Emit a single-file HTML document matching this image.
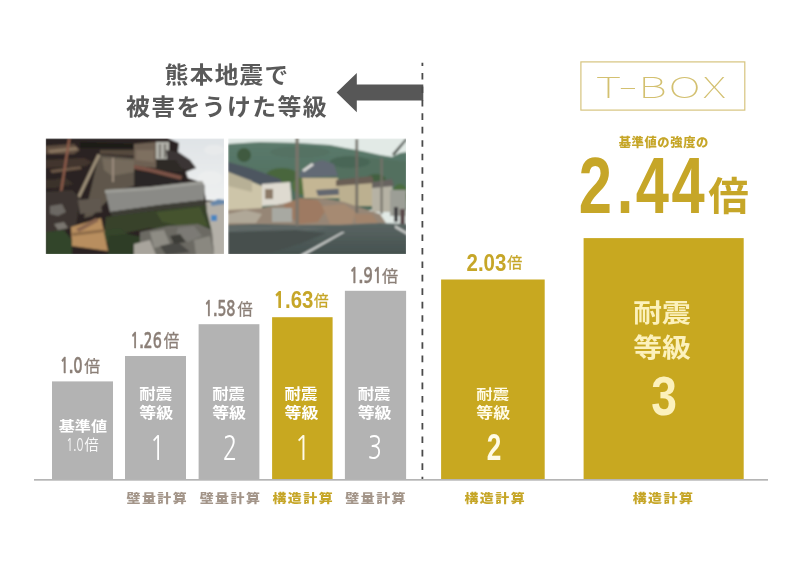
<!DOCTYPE html>
<html><head><meta charset="utf-8">
<style>
html,body{margin:0;padding:0;background:#fff;}
body{width:800px;height:565px;overflow:hidden;}
svg{display:block;}
</style></head>
<body>
<svg width="800" height="565" viewBox="0 0 800 565">
<rect width="800" height="565" fill="#fff"/>
<defs>
<clipPath id="cp1"><rect x="45.8" y="138.4" width="178.2" height="115.6"/></clipPath>
<clipPath id="cp2"><rect x="228.1" y="138.4" width="177.9" height="115.6"/></clipPath>
<filter id="bl" x="-5%" y="-5%" width="110%" height="110%"><feGaussianBlur stdDeviation="0.9"/></filter>
<linearGradient id="sky1" x1="0" y1="0" x2="0" y2="1"><stop offset="0" stop-color="#dfe3e6"/><stop offset="1" stop-color="#eef0f0"/></linearGradient>
<linearGradient id="mtn" x1="0" y1="0" x2="0" y2="1"><stop offset="0" stop-color="#5b7a6b"/><stop offset="1" stop-color="#4c6a5a"/></linearGradient>
<linearGradient id="road" x1="0" y1="0" x2="0" y2="1"><stop offset="0" stop-color="#5a6563"/><stop offset="1" stop-color="#45514f"/></linearGradient>
</defs>
<!-- PHOTO 1 : collapsed house -->
<g clip-path="url(#cp1)">
<g filter="url(#bl)">
<rect x="45" y="138" width="180" height="117" fill="#2a2420"/>
<!-- sky -->
<polygon points="168,138 225,138 225,202 206,200 203,183 188,178 186,172 196,168 190,160 178,152 179,143 172,140" fill="url(#sky1)"/>
<ellipse cx="214" cy="150" rx="10" ry="5" fill="#e8eaeb"/>
<ellipse cx="210" cy="178" rx="12" ry="7" fill="#eceeee"/>
<!-- upper house -->
<polygon points="134,144 156,142 156,168 134,166" fill="#6e6052"/>
<polygon points="136,150 154,150 154,162 136,160" fill="#7e7060"/>
<rect x="156" y="142" width="13" height="17" fill="#b4b4ac"/>
<rect x="159" y="144" width="1.6" height="14" fill="#5e5a54"/>
<rect x="164" y="144" width="1.6" height="14" fill="#5e5a54"/>
<polygon points="166,150 178,152 190,160 196,168 188,170 168,166" fill="#3a3634"/>
<polygon points="156,160 176,160 184,172 156,170" fill="#2e2a28"/>
<!-- eave beam -->
<polygon points="118,162 150,168 182,176 181,180 150,172 118,166" fill="#7a5246"/>
<polygon points="118,168 182,180 186,186 118,186" fill="#2c2826"/>
<!-- upper-left wreckage -->
<polygon points="46,146 74,144 80,150 74,154 46,154" fill="#5e4e40"/>
<polygon points="48,150 76,147 78,150 50,153" fill="#8a7660"/>
<polygon points="50,170 80,166 82,169 52,173" fill="#6a5646"/>
<polygon points="46,160 84,158 92,162 86,166 46,168" fill="#42362e"/>
<polygon points="46,180 66,178 74,184 56,188 46,188" fill="#3a302a"/>
<polygon points="80,142 134,144 134,148 80,148" fill="#1e1a18"/>
<polygon points="100,150 134,150 134,156 100,154" fill="#54483e"/>
<!-- collapsed roof panel -->
<polygon points="99,155 134,158 134,186 118,190 104,204 92,216 84,218" fill="#5e564c"/>
<polygon points="102,158 134,160 134,172 112,176 104,170" fill="#746a5c"/>
<polygon points="97.5,154 100.5,155 80.5,197 72.5,222 70,221 77.5,196" fill="#9c8e78"/>
<!-- beams -->
<polygon points="68,139 70.5,139 61.5,197 59,197" fill="#8a5a48"/>
<polygon points="112,158 114,158 114,182 112,182" fill="#9a8a7c"/>
<polygon points="46,212 60,206 80,202 82,205 60,210 46,216" fill="#5e4a3e"/>
<!-- concrete wall -->
<polygon points="105,190 150,187 202,181 205,186 204,200 160,205 110,212" fill="#8a8a86"/>
<polygon points="105,190 150,187 202,181 203,184 150,190 105,193" fill="#9e9e98"/>
<polygon points="110,212 160,205 204,200 206,206 160,210 112,217" fill="#3c3c36"/>
<!-- moss -->
<polygon points="106,217 160,210 206,205 212,230 196,234 150,228 120,234 104,234" fill="#37432c"/>
<polygon points="156,212 200,207 208,226 180,226 162,222" fill="#44522f"/>
<polygon points="104,230 120,228 130,236 114,244 104,242" fill="#34442a"/>
<!-- left clutter -->
<polygon points="46,192 72,190 80,198 76,226 60,232 46,232" fill="#3c3630"/>
<polygon points="50,206 62,204 66,212 58,216 50,214" fill="#6c6864"/>
<polygon points="54,224 64,222 68,228 58,230" fill="#7a7670"/>
<polygon points="78,200 100,198 102,212 80,214" fill="#605850"/>
<!-- wooden panel -->
<polygon points="71,227 101,218 108,251 72,246" fill="#b88e5e"/>
<polygon points="72,233 104,229 105,232 73,236" fill="#8e6c48"/>
<polygon points="76,229 96,218 99,221 79,232" fill="#8a6650"/>
<!-- bottom-left bush -->
<polygon points="46,232 64,230 72,240 72,255 46,255" fill="#30442a"/>
<polygon points="108,236 128,234 146,238 144,255 108,255" fill="#2e3c26"/>
<!-- rubble -->
<polygon points="140,232 168,226 198,224 212,230 214,255 140,255" fill="#6c6a64"/>
<polygon points="150,232 164,230 170,244 154,248" fill="#8e8c84"/>
<polygon points="178,228 194,226 202,236 188,242 176,236" fill="#7c7a74"/>
<polygon points="160,246 178,242 190,252 166,255" fill="#4a4844"/>
<polygon points="194,240 210,236 214,255 196,255" fill="#8a8880"/>
<polygon points="134,244 150,240 156,255 134,255" fill="#a8a49c"/>
<polygon points="170,236 180,234 186,242 174,244" fill="#3e3c38"/>
<!-- right ground -->
<polygon points="206,202 225,200 225,255 214,255 212,232 207,212" fill="#b4b0a8"/>
<rect x="211" y="215" width="6" height="6" fill="#4a86c0"/>
<polygon points="210,203 218,199 225,200 225,204 212,206" fill="#6888aa"/>
</g>
</g>
<!-- PHOTO 2 : street -->
<g clip-path="url(#cp2)">
<g filter="url(#bl)">
<rect x="228" y="138" width="179" height="117" fill="#e2eae6"/>
<!-- mountain -->
<polygon points="228,144 260,142 300,143 330,145 345,148 362,151 380,155 392,157 400,153 407,152 407,210 228,210" fill="url(#mtn)"/>
<polygon points="330,160 370,158 407,162 407,200 330,200" fill="#52705f"/>
<ellipse cx="300" cy="152" rx="30" ry="6" fill="#557264"/>
<ellipse cx="350" cy="162" rx="20" ry="6" fill="#4a6656"/>
<!-- trees -->
<ellipse cx="244" cy="155" rx="7" ry="7" fill="#3f5a40"/>
<ellipse cx="282" cy="176" rx="16" ry="8" fill="#4a663c"/>
<ellipse cx="302" cy="186" rx="10" ry="9" fill="#52703e"/>
<ellipse cx="376" cy="180" rx="10" ry="6" fill="#43603f"/>
<ellipse cx="400" cy="196" rx="8" ry="12" fill="#4e6e40"/>
<!-- left house roof + wall -->
<polygon points="228,162 250,168 280,179 283,184 262,186 228,172" fill="#4e5660"/>
<polygon points="228,172 262,186 262,216 228,216" fill="#cdc5a9"/>
<polygon points="228,172 252,181 252,192 228,186" fill="#b7b096"/>
<polygon points="262,184 290,182 292,204 262,206" fill="#dedad0"/>
<rect x="265" y="189" width="8" height="10" fill="#8c7a68"/>
<!-- temple roof center -->
<polygon points="300,172 310,164 322,160 334,164 338,176 300,178" fill="#626a74"/>
<polygon points="302,170 312,163 314,165 304,172" fill="#dcdcd8"/>
<polygon points="302,178 338,178 340,198 304,198" fill="#c4b694"/>
<polygon points="316,190 348,188 352,194 318,196" fill="#646870"/>
<!-- right houses -->
<polygon points="338,182 362,178 372,182 372,206 340,206" fill="#bcb090"/>
<polygon points="336,180 372,176 374,183 336,186" fill="#6a5e54"/>
<polygon points="372,184 392,182 394,212 372,212" fill="#b6b2a4"/>
<polygon points="372,182 392,179 394,186 372,188" fill="#686460"/>
<rect x="390" y="190" width="16" height="26" fill="#9c9e96"/>
<!-- debris -->
<polygon points="228,210 262,208 282,204 300,200 322,198 344,202 362,208 380,214 386,223 340,226 300,225 260,225 228,225" fill="#968676"/>
<polygon points="284,204 300,198 318,200 326,210 318,222 300,224 286,214" fill="#9e7a62"/>
<polygon points="322,206 344,204 356,212 352,224 330,224" fill="#a68a72"/>
<polygon points="228,214 246,210 262,214 256,223 228,223" fill="#b0a898"/>
<rect x="272" y="208" width="20" height="14" fill="#a8a9a2"/>
<polygon points="354,214 372,214 378,223 356,223" fill="#a2846c"/>
<!-- road -->
<polygon points="228,225 260,224 300,225 340,225 380,223 407,224 407,255 228,255" fill="url(#road)"/>
<polygon points="228,226 300,226 330,228 300,232 228,232" fill="#5e6866"/>
<polygon points="228,232 296,230 326,233 300,244 262,255 228,255" fill="#46504e"/>
<polygon points="300,255 342,232 345,232 305,255" fill="#d2d4d2"/>
<polygon points="395,225 407,232 407,235 395,228" fill="#c8cac8"/>
<!-- poles -->
<rect x="295.5" y="138" width="3.2" height="88" fill="#7a746a"/>
<rect x="355.5" y="139" width="2.6" height="74" fill="#6e6a62"/>
<rect x="380.5" y="158" width="2.2" height="56" fill="#76726a"/>
<polygon points="406,138 407,140 394,156 392,154" fill="#4e5450"/>
<!-- people -->
<rect x="394" y="207" width="4" height="15" fill="#3a3a3c"/>
<rect x="400" y="209" width="5" height="15" fill="#5a4a4c"/>
</g>
</g>

<!-- arrow -->
<polygon points="336.6,92.6 356.8,73 356.8,84.6 423.3,84.6 423.3,100.6 356.8,100.6 356.8,112.3" fill="#575757"/>
<!-- dashed divider -->
<line x1="422.4" y1="62.7" x2="422.4" y2="480" stroke="#4a4a4a" stroke-width="1.8" stroke-dasharray="6.6 6.86" stroke-dashoffset="3.2"/>
<!-- T-BOX frame -->
<rect x="580.9" y="61.9" width="163.9" height="48.2" fill="none" stroke="#d6c47e" stroke-width="1.2"/>
<!-- bars -->
<rect x="52" y="381.4" width="61" height="98" fill="#b3b3b3"/>
<rect x="125" y="356" width="61" height="123.4" fill="#b3b3b3"/>
<rect x="198.6" y="324.2" width="60.8" height="155.2" fill="#b3b3b3"/>
<rect x="272.1" y="317.2" width="60.5" height="162.2" fill="#c8a820"/>
<rect x="344.9" y="290.8" width="61.2" height="188.6" fill="#b3b3b3"/>
<rect x="441.1" y="279.5" width="103.6" height="199.9" fill="#c8a820"/>
<rect x="583.6" y="238.1" width="160.1" height="241.3" fill="#c8a820"/>
<rect x="34" y="479" width="734" height="1.7" fill="#b5b5b5"/>

<g opacity="0.999">
<text transform="translate(164.72 83.36) scale(0.9837 0.9458)" font-family='"Liberation Sans","Noto Sans CJK JP",sans-serif' font-weight="700" font-size="24" letter-spacing="1.4" fill="#595959">熊本地震で</text>
<text transform="translate(126.01 115.19) scale(0.9945 0.9375)" font-family='"Liberation Sans","Noto Sans CJK JP",sans-serif' font-weight="700" font-size="24" letter-spacing="1.4" fill="#595959">被害をうけた等級</text>
<text transform="translate(618.70 146.61) scale(0.9844 0.9917)" font-family='"Liberation Sans","Noto Sans CJK JP",sans-serif' font-weight="900" font-size="12.5" letter-spacing="0.6" fill="#c6a628">基準値の強度の</text>
<text transform="translate(708.29 209.53) scale(1.0132 0.9684)" font-family='"Liberation Sans","Noto Sans CJK JP",sans-serif' font-weight="700" font-size="40" fill="#c6a628">倍</text>
<text transform="translate(59.72 372.90) scale(0.7259 0.9750)" font-family='"NanumGothic",sans-serif' font-weight="700" font-size="21" fill="#8b7f77" stroke="#8b7f77" stroke-width="0.35">1<tspan font-family="Liberation Sans">.</tspan>0</text>
<text transform="translate(84.20 371.90) scale(0.9875 1.0000)" font-family='"Liberation Sans","Noto Sans CJK JP",sans-serif' font-weight="400" font-size="16" fill="#8b7f77" stroke="#8b7f77" stroke-width="0.3">倍</text>
<text transform="translate(130.36 347.70) scale(0.7125 1.0125)" font-family='"NanumGothic",sans-serif' font-weight="700" font-size="21" fill="#8b7f77" stroke="#8b7f77" stroke-width="0.35">1<tspan font-family="Liberation Sans">.</tspan>26</text>
<text transform="translate(163.75 346.59) scale(0.9656 1.0562)" font-family='"Liberation Sans","Noto Sans CJK JP",sans-serif' font-weight="400" font-size="16" fill="#8b7f77" stroke="#8b7f77" stroke-width="0.3">倍</text>
<text transform="translate(204.06 315.70) scale(0.7125 0.9812)" font-family='"NanumGothic",sans-serif' font-weight="700" font-size="21" fill="#8b7f77" stroke="#8b7f77" stroke-width="0.35">1<tspan font-family="Liberation Sans">.</tspan>58</text>
<text transform="translate(237.40 314.72) scale(0.9500 0.9875)" font-family='"Liberation Sans","Noto Sans CJK JP",sans-serif' font-weight="400" font-size="16" fill="#8b7f77" stroke="#8b7f77" stroke-width="0.3">倍</text>
<text transform="translate(349.24 282.70) scale(0.7528 0.9937)" font-family='"NanumGothic",sans-serif' font-weight="700" font-size="21" fill="#8b7f77" stroke="#8b7f77" stroke-width="0.35">1<tspan font-family="Liberation Sans">.</tspan>91</text>
<text transform="translate(382.10 281.72) scale(1.0062 0.9875)" font-family='"Liberation Sans","Noto Sans CJK JP",sans-serif' font-weight="400" font-size="16" fill="#8b7f77" stroke="#8b7f77" stroke-width="0.3">倍</text>
<text transform="translate(273.54 308.40) scale(0.9275 1.0500)" font-family='"Liberation Sans","Noto Sans CJK JP",sans-serif' font-weight="700" font-size="22" fill="#c6a628"><tspan font-family="NanumGothic" font-weight="800" font-size="20.6">1</tspan>.63</text>
<text transform="translate(314.00 306.18) scale(0.9125 0.9594)" font-family='"Liberation Sans","Noto Sans CJK JP",sans-serif' font-weight="400" font-size="16" fill="#c6a628" stroke="#c6a628" stroke-width="0.3">倍</text>
<text transform="translate(466.57 270.50) scale(0.9293 1.1000)" font-family='"Liberation Sans","Noto Sans CJK JP",sans-serif' font-weight="700" font-size="22" fill="#c6a628">2.03</text>
<text transform="translate(507.30 268.40) scale(0.9375 0.9500)" font-family='"Liberation Sans","Noto Sans CJK JP",sans-serif' font-weight="400" font-size="16" fill="#c6a628" stroke="#c6a628" stroke-width="0.3">倍</text>
<text transform="translate(58.80 430.83) scale(1.0062 0.8875)" font-family='"Liberation Sans","Noto Sans CJK JP",sans-serif' font-weight="700" font-size="16" fill="#ffffff">基準値</text>
<text transform="translate(66.30 451.20) scale(0.6000 0.9200)" font-family='"NanumGothic",sans-serif' font-weight="400" font-size="19" fill="#fafafa">1<tspan font-family="Liberation Sans">.</tspan>0</text>
<text transform="translate(84.50 450.08) scale(0.9467 0.9600)" font-family='"Liberation Sans","Noto Sans CJK JP",sans-serif' font-weight="400" font-size="15" fill="#fafafa">倍</text>
<text transform="translate(139.37 399.31) scale(1.0258 0.8938)" font-family='"Liberation Sans","Noto Sans CJK JP",sans-serif' font-weight="700" font-size="16" fill="#ffffff">耐震</text>
<text transform="translate(139.34 418.36) scale(1.0600 0.9187)" font-family='"Liberation Sans","Noto Sans CJK JP",sans-serif' font-weight="700" font-size="16" fill="#ffffff">等級</text>
<text transform="translate(212.17 399.31) scale(1.0258 0.8938)" font-family='"Liberation Sans","Noto Sans CJK JP",sans-serif' font-weight="700" font-size="16" fill="#ffffff">耐震</text>
<text transform="translate(212.14 418.36) scale(1.0600 0.9187)" font-family='"Liberation Sans","Noto Sans CJK JP",sans-serif' font-weight="700" font-size="16" fill="#ffffff">等級</text>
<text transform="translate(284.57 399.31) scale(1.0258 0.8938)" font-family='"Liberation Sans","Noto Sans CJK JP",sans-serif' font-weight="700" font-size="16" fill="#ffffff">耐震</text>
<text transform="translate(284.54 418.36) scale(1.0600 0.9187)" font-family='"Liberation Sans","Noto Sans CJK JP",sans-serif' font-weight="700" font-size="16" fill="#ffffff">等級</text>
<text transform="translate(357.67 399.31) scale(1.0258 0.8938)" font-family='"Liberation Sans","Noto Sans CJK JP",sans-serif' font-weight="700" font-size="16" fill="#ffffff">耐震</text>
<text transform="translate(357.64 418.36) scale(1.0600 0.9187)" font-family='"Liberation Sans","Noto Sans CJK JP",sans-serif' font-weight="700" font-size="16" fill="#ffffff">等級</text>
<text transform="translate(476.28 398.90) scale(1.0226 0.8500)" font-family='"Liberation Sans","Noto Sans CJK JP",sans-serif' font-weight="700" font-size="16" fill="#fffbe6">耐震</text>
<text transform="translate(476.24 418.41) scale(1.0567 0.8938)" font-family='"Liberation Sans","Noto Sans CJK JP",sans-serif' font-weight="700" font-size="16" fill="#fffbe6">等級</text>
<text transform="translate(149.71 459.80) scale(0.7375 0.9960)" font-family='"NanumGothic",sans-serif' font-weight="400" font-size="34" fill="#ffffff">1</text>
<text transform="translate(222.79 459.70) scale(0.7063 0.9920)" font-family='"NanumGothic",sans-serif' font-weight="400" font-size="34" fill="#ffffff">2</text>
<text transform="translate(294.46 460.10) scale(0.7875 1.0080)" font-family='"NanumGothic",sans-serif' font-weight="400" font-size="34" fill="#fffbea">1</text>
<text transform="translate(367.71 458.80) scale(0.6937 0.9560)" font-family='"NanumGothic",sans-serif' font-weight="400" font-size="34" fill="#ffffff">3</text>
<text transform="translate(486.63 459.70) scale(0.7706 1.0913)" font-family='"Liberation Sans","Noto Sans CJK JP",sans-serif' font-weight="700" font-size="34" fill="#fffbe6">2</text>
<text transform="translate(633.27 322.44) scale(1.0278 0.8857)" font-family='"Liberation Sans","Noto Sans CJK JP",sans-serif' font-weight="700" font-size="28" fill="#fcf1bd">耐震</text>
<text transform="translate(633.27 356.51) scale(1.0278 0.9286)" font-family='"Liberation Sans","Noto Sans CJK JP",sans-serif' font-weight="700" font-size="28" fill="#fcf1bd">等級</text>
<text transform="translate(651.29 415.23) scale(0.8103 0.9738)" font-family='"Liberation Sans","Noto Sans CJK JP",sans-serif' font-weight="700" font-size="57" fill="#fcf1bd">3</text>
<text transform="translate(126.50 503.17) scale(1.0293 0.9143)" font-family='"Liberation Sans","Noto Sans CJK JP",sans-serif' font-weight="900" font-size="13.5" letter-spacing="1.5" fill="#a39589">壁量計算</text>
<text transform="translate(199.65 503.17) scale(1.0293 0.9143)" font-family='"Liberation Sans","Noto Sans CJK JP",sans-serif' font-weight="900" font-size="13.5" letter-spacing="1.5" fill="#a39589">壁量計算</text>
<text transform="translate(272.45 503.17) scale(1.0293 0.9143)" font-family='"Liberation Sans","Noto Sans CJK JP",sans-serif' font-weight="900" font-size="13.5" letter-spacing="1.5" fill="#c6a628">構造計算</text>
<text transform="translate(345.35 503.17) scale(1.0293 0.9143)" font-family='"Liberation Sans","Noto Sans CJK JP",sans-serif' font-weight="900" font-size="13.5" letter-spacing="1.5" fill="#a39589">壁量計算</text>
<text transform="translate(464.40 503.17) scale(1.0293 0.9143)" font-family='"Liberation Sans","Noto Sans CJK JP",sans-serif' font-weight="900" font-size="13.5" letter-spacing="1.5" fill="#c6a628">構造計算</text>
<text transform="translate(632.65 503.17) scale(1.0293 0.9143)" font-family='"Liberation Sans","Noto Sans CJK JP",sans-serif' font-weight="900" font-size="13.5" letter-spacing="1.5" fill="#c6a628">構造計算</text>
<text transform="translate(0 98.28) scale(1.4811 0.9716)" font-family='"Noto Sans CJK JP",sans-serif' font-weight="100" font-size="30" fill="#d3c070"><tspan x="402.28" y="0">T</tspan><tspan x="417.42" y="-2.28" textLength="12.98" lengthAdjust="spacingAndGlyphs">-</tspan><tspan x="431.11" y="0">B</tspan><tspan x="451.50" y="0">O</tspan><tspan x="474.45" y="0">X</tspan></text>
<text transform="translate(0 213.30) scale(0.7752 1.0252)" x="746.70 795.56 820.10 866.34" font-family='"Liberation Sans","Noto Sans CJK JP",sans-serif' font-weight="700" font-size="77" fill="#c6a628">2.44</text>
</g>
</svg>
</body></html>
